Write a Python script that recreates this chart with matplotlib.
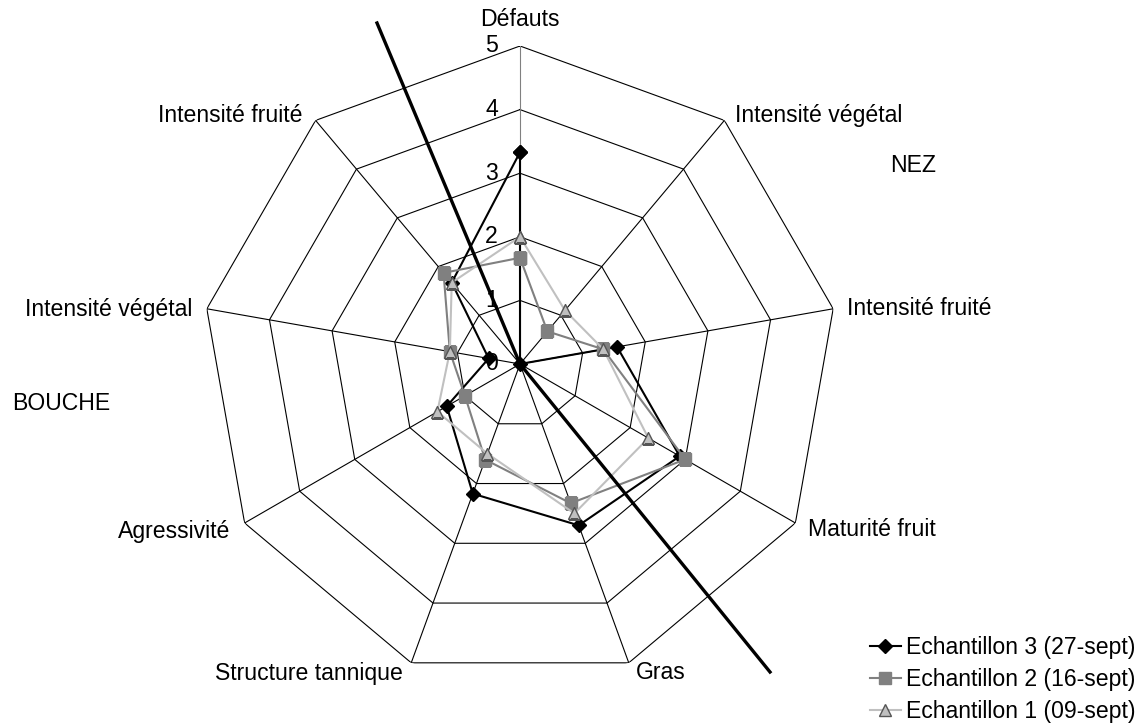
import numpy as np
import matplotlib
matplotlib.use("Agg")
import matplotlib.pyplot as plt
from matplotlib.lines import Line2D

plt.rcParams['font.family'] = ['Liberation Sans', 'DejaVu Sans']

# criteria, clockwise from the top
categories = ["Défauts", "Intensité végétal", "Intensité fruité", "Maturité fruit",
              "Gras", "Structure tannique", "Agressivité", "Intensité végétal",
              "Intensité fruité"]

ech3 = [3.33, 0.0, 1.55, 2.9, 2.7, 2.17, 1.33, 0.5, 1.67]
ech2 = [1.67, 0.67, 1.33, 3.0, 2.33, 1.6, 1.0, 1.12, 1.87]
ech1 = [2.0, 1.1, 1.33, 2.33, 2.5, 1.5, 1.5, 1.12, 1.67]

series_labels = ["Echantillon 3 (27-sept)", "Echantillon 2 (16-sept)",
                 "Echantillon 1 (09-sept)"]
levels = [0, 1, 2, 3, 4, 5]

W, H = 1143, 725
fig = plt.figure(figsize=(W / 100, H / 100), dpi=100)

cx, cy, R = 520, 364, 318
ax = fig.add_axes([(cx - R) / W, (H - cy - R) / H, 2 * R / W, 2 * R / H],
                  projection='polar')
ax.set_theta_offset(np.pi / 2)
ax.set_theta_direction(-1)
ax.set_ylim(0, 5)
ax.grid(False)
ax.spines['polar'].set_visible(False)
ax.set_xticks([])
ax.set_yticks([])
ax.patch.set_visible(False)

n = len(categories)
theta = np.arange(n) * 2 * np.pi / n
theta_c = np.append(theta, theta[0])

# polygon rings and spokes
for lv in levels[1:]:
    ax.plot(theta_c, [lv] * (n + 1), color='black', lw=0.8, zorder=1)
for i, t in enumerate(theta):
    ax.plot([t, t], [0, 5], color='#808080' if i == 0 else 'black', lw=0.8, zorder=1)

# radial scale labels
for lv in levels:
    ax.annotate(str(lv), (0, lv), xytext=(-16, 0), textcoords='offset points',
                ha='right', va='center', fontsize=16.6)

# category labels: (dx, dy) offsets in pixels, alignment
label_pos = [((0, 27), 'center'), ((11, 5), 'left'), ((14, 0), 'left'),
             ((13, -6), 'left'), ((7, -10), 'left'), ((-8, -11), 'right'),
             ((-14, -8), 'right'), ((-14, -1), 'right'), ((-13, 5), 'right')]
for t, lab, ((dx, dy), ha) in zip(theta, categories, label_pos):
    ax.annotate(lab, (t, 5), xytext=(dx * 0.72, dy * 0.72), textcoords='offset points',
                ha=ha, va='center', fontsize=16.6)

# data series, sample 1 on top
closed = lambda v: list(v) + [v[0]]
l3, = ax.plot(theta_c, closed(ech3), color='black', lw=1.5, marker='D', ms=7.5,
              mfc='black', mec='black', zorder=3, label=series_labels[0])
l2, = ax.plot(theta_c, closed(ech2), color='#808080', lw=1.5, marker='s', ms=8.5,
              mfc='#808080', mec='#808080', zorder=4, label=series_labels[1])
l1, = ax.plot(theta_c, closed(ech1), color='#C0C0C0', lw=1.5, marker='^', ms=9,
              mfc='#C0C0C0', mec='#555555', mew=1, zorder=5, label=series_labels[2])

# separator between nose and mouth criteria, bent at the centre
sep_x = [377, cx, 770]
sep_y = [23, cy, 672]
fig.add_artist(Line2D([x / W for x in sep_x], [1 - y / H for y in sep_y],
                      color='black', lw=2.4, transform=fig.transFigure, zorder=10))

fig.text(890 / W, 1 - 165 / H, "NEZ", ha='left', va='center', fontsize=16.6)
fig.text(12 / W, 1 - 404 / H, "BOUCHE", ha='left', va='center', fontsize=16.6)

fig.legend(handles=[l3, l2, l1], loc='lower right', bbox_to_anchor=(1136 / W, 2 / H),
           frameon=False, fontsize=16.6, handlelength=1.35, handletextpad=0.25,
           labelspacing=0.38, borderpad=0, borderaxespad=0)

fig.savefig("out.png", dpi=100)
